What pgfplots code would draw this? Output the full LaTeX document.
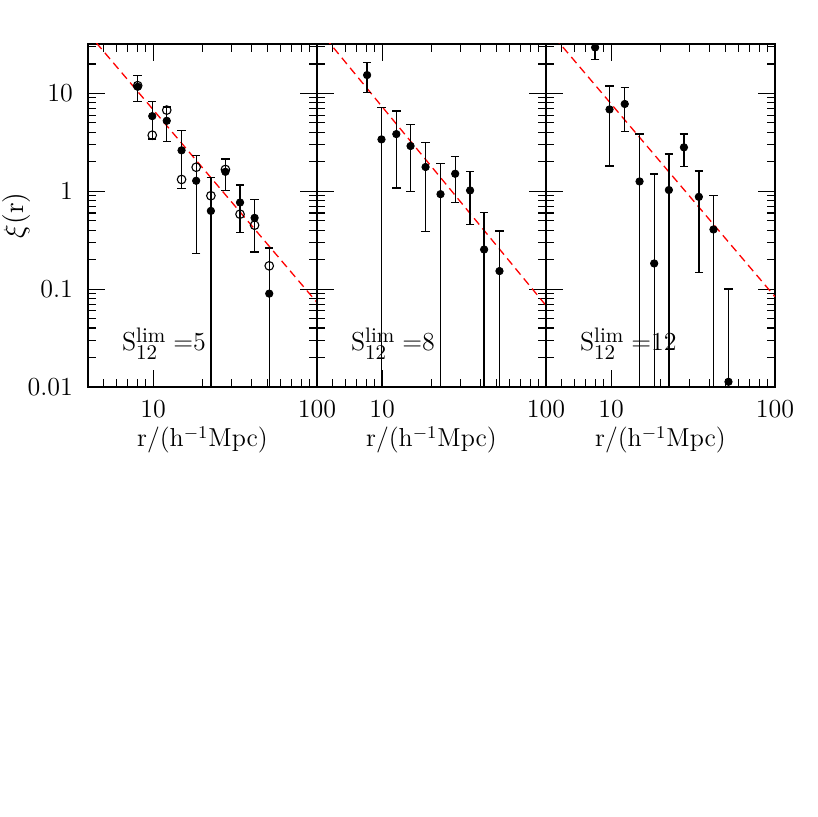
\documentclass[border=0pt]{standalone}
\usepackage{pgfplots}
\pgfplotsset{compat=1.18}
\newcommand{\slim}[1]{S$^{\mbox{\fontsize{10.5}{12}\selectfont lim}}_{\mbox{\fontsize{10.5}{12}\selectfont 12}}$\hspace{3.5pt}=#1}
\begin{document}
\begin{tikzpicture}
\path[use as bounding box] (0,0) rectangle (408.5pt,408.5pt);
% Panel 1
\begin{axis}[xmode=log, ymode=log,
  scale only axis, width=114.5pt, height=171.5pt,
  at={(44pt,215pt)}, anchor=south west,
  xmin=4, xmax=100, ymin=0.01, ymax=32,
  xtick={10,100}, xticklabels={10,100},
  minor xtick={4,5,6,7,8,9,20,30,40,50,60,70,80,90},
  ytick={0.01,0.1,1,10},
  minor ytick={0.02,0.03,0.04,0.05,0.06,0.07,0.08,0.09,0.2,0.3,0.4,0.5,0.6,0.7,0.8,0.9,2,3,4,5,6,7,8,9,20,30},
  tick align=inside,
  major tick length=8.5pt, minor tick length=4pt,
  tick style={black, line width=0.6pt},
  axis line style={line width=0.65pt},
  tick label style={font=\fontsize{13}{15}\selectfont},
  label style={font=\fontsize{13}{15}\selectfont},
  xticklabel style={yshift=-3pt},
  yticklabel style={xshift=-4pt},
  xlabel={r/(h$^{-1}$Mpc)},
  xlabel style={at={(axis description cs:0.5,-0.1545)}, anchor=center},
  yticklabels={0.01,0.1,1,10},
  ylabel={$\xi$(r)},
  ylabel style={at={(axis description cs:-0.31,0.5)}, anchor=center, inner sep=0pt, font=\fontsize{14}{16}\selectfont}]
\addplot[red, line width=0.65pt, dash pattern=on 4pt off 2.5pt] coordinates {(4,41.4) (100,0.073)};
\addplot[black, only marks, mark=*, mark size=1.85pt,
  error bars/.cd, y dir=both, y explicit,
  error bar style={line width=0.65pt},
  error mark options={rotate=90, mark size=2.1pt, line width=0.65pt}]
 table[x=x, y=y, y error plus=ep, y error minus=em] {
x y ep em
8.04 11.7 3.45 3.45
9.87 5.86 2.44 2.44
12.1 5.25 2.0 2.0
14.9 2.62 1.56 1.56
18.3 1.28 1.05 1.05
22.5 0.63 0.75 0.629
27.6 1.58 0.56 0.56
33.9 0.768 0.39 0.39
41.6 0.535 0.295 0.295
51.1 0.090 0.174 0.089
};
\addplot[black, only marks, mark=o, mark size=2.15pt, mark options={line width=0.55pt}] table[x=x, y=y] {
x y
8.04 12.0
9.87 3.74
12.1 6.75
14.9 1.32
18.3 1.76
22.5 0.90
27.6 1.67
33.9 0.583
41.6 0.45
51.1 0.173
};
\node[anchor=base west, inner sep=0pt, font=\fontsize{13}{15}\selectfont] at (axis description cs:0.147,0.105) {\slim{5}};
\end{axis}
% Panel 2
\begin{axis}[xmode=log, ymode=log,
  scale only axis, width=114.5pt, height=171.5pt,
  at={(158.5pt,215pt)}, anchor=south west,
  xmin=4, xmax=100, ymin=0.01, ymax=32,
  xtick={10,100}, xticklabels={10,100},
  minor xtick={4,5,6,7,8,9,20,30,40,50,60,70,80,90},
  ytick={0.01,0.1,1,10},
  minor ytick={0.02,0.03,0.04,0.05,0.06,0.07,0.08,0.09,0.2,0.3,0.4,0.5,0.6,0.7,0.8,0.9,2,3,4,5,6,7,8,9,20,30},
  tick align=inside,
  major tick length=8.5pt, minor tick length=4pt,
  tick style={black, line width=0.6pt},
  axis line style={line width=0.65pt},
  tick label style={font=\fontsize{13}{15}\selectfont},
  label style={font=\fontsize{13}{15}\selectfont},
  xticklabel style={yshift=-3pt},
  xlabel={r/(h$^{-1}$Mpc)},
  xlabel style={at={(axis description cs:0.5,-0.1545)}, anchor=center},
  yticklabels={}]
\addplot[red, line width=0.65pt, dash pattern=on 4pt off 2.5pt] coordinates {(4,46.9) (100,0.068)};
\addplot[black, only marks, mark=*, mark size=1.85pt,
  error bars/.cd, y dir=both, y explicit,
  error bar style={line width=0.65pt},
  error mark options={rotate=90, mark size=2.1pt, line width=0.65pt}]
 table[x=x, y=y, y error plus=ep, y error minus=em] {
x y ep em
8.09 15.4 5.15 5.15
9.9 3.39 3.73 3.389
12.2 3.84 2.76 2.76
14.9 2.9 1.9 1.9
18.4 1.77 1.38 1.38
22.7 0.934 0.99 0.933
27.9 1.51 0.74 0.74
34.4 1.02 0.565 0.565
41.9 0.254 0.35 0.253
52.0 0.153 0.24 0.152
};
\node[anchor=base west, inner sep=0pt, font=\fontsize{13}{15}\selectfont] at (axis description cs:0.147,0.105) {\slim{8}};
\end{axis}
% Panel 3
\begin{axis}[xmode=log, ymode=log,
  scale only axis, width=114.5pt, height=171.5pt,
  at={(273pt,215pt)}, anchor=south west,
  xmin=4, xmax=100, ymin=0.01, ymax=32,
  xtick={10,100}, xticklabels={10,100},
  minor xtick={4,5,6,7,8,9,20,30,40,50,60,70,80,90},
  ytick={0.01,0.1,1,10},
  minor ytick={0.02,0.03,0.04,0.05,0.06,0.07,0.08,0.09,0.2,0.3,0.4,0.5,0.6,0.7,0.8,0.9,2,3,4,5,6,7,8,9,20,30},
  tick align=inside,
  major tick length=8.5pt, minor tick length=4pt,
  tick style={black, line width=0.6pt},
  axis line style={line width=0.65pt},
  tick label style={font=\fontsize{13}{15}\selectfont},
  label style={font=\fontsize{13}{15}\selectfont},
  xticklabel style={yshift=-3pt},
  xlabel={r/(h$^{-1}$Mpc)},
  xlabel style={at={(axis description cs:0.5,-0.1545)}, anchor=center},
  yticklabels={}]
\addplot[red, line width=0.65pt, dash pattern=on 4pt off 2.5pt] coordinates {(4,47.4) (100,0.0836)};
\addplot[black, only marks, mark=*, mark size=1.85pt,
  error bars/.cd, y dir=both, y explicit,
  error bar style={line width=0.65pt},
  error mark options={rotate=90, mark size=2.1pt, line width=0.65pt}]
 table[x=x, y=y, y error plus=ep, y error minus=em] {
x y ep em
7.98 29.5 7.2 7.2
9.77 6.86 5.05 5.05
12.1 7.8 3.72 3.72
14.9 1.26 2.58 1.259
18.3 0.183 1.32 0.182
22.5 1.03 1.38 1.029
27.8 2.81 1.03 1.03
34.3 0.877 0.73 0.73
42.1 0.407 0.505 0.406
52.0 0.0113 0.089 0.0103
};
\node[anchor=base west, inner sep=0pt, font=\fontsize{13}{15}\selectfont] at (axis description cs:0.147,0.105) {\slim{12}};
\end{axis}
\end{tikzpicture}
\end{document}
